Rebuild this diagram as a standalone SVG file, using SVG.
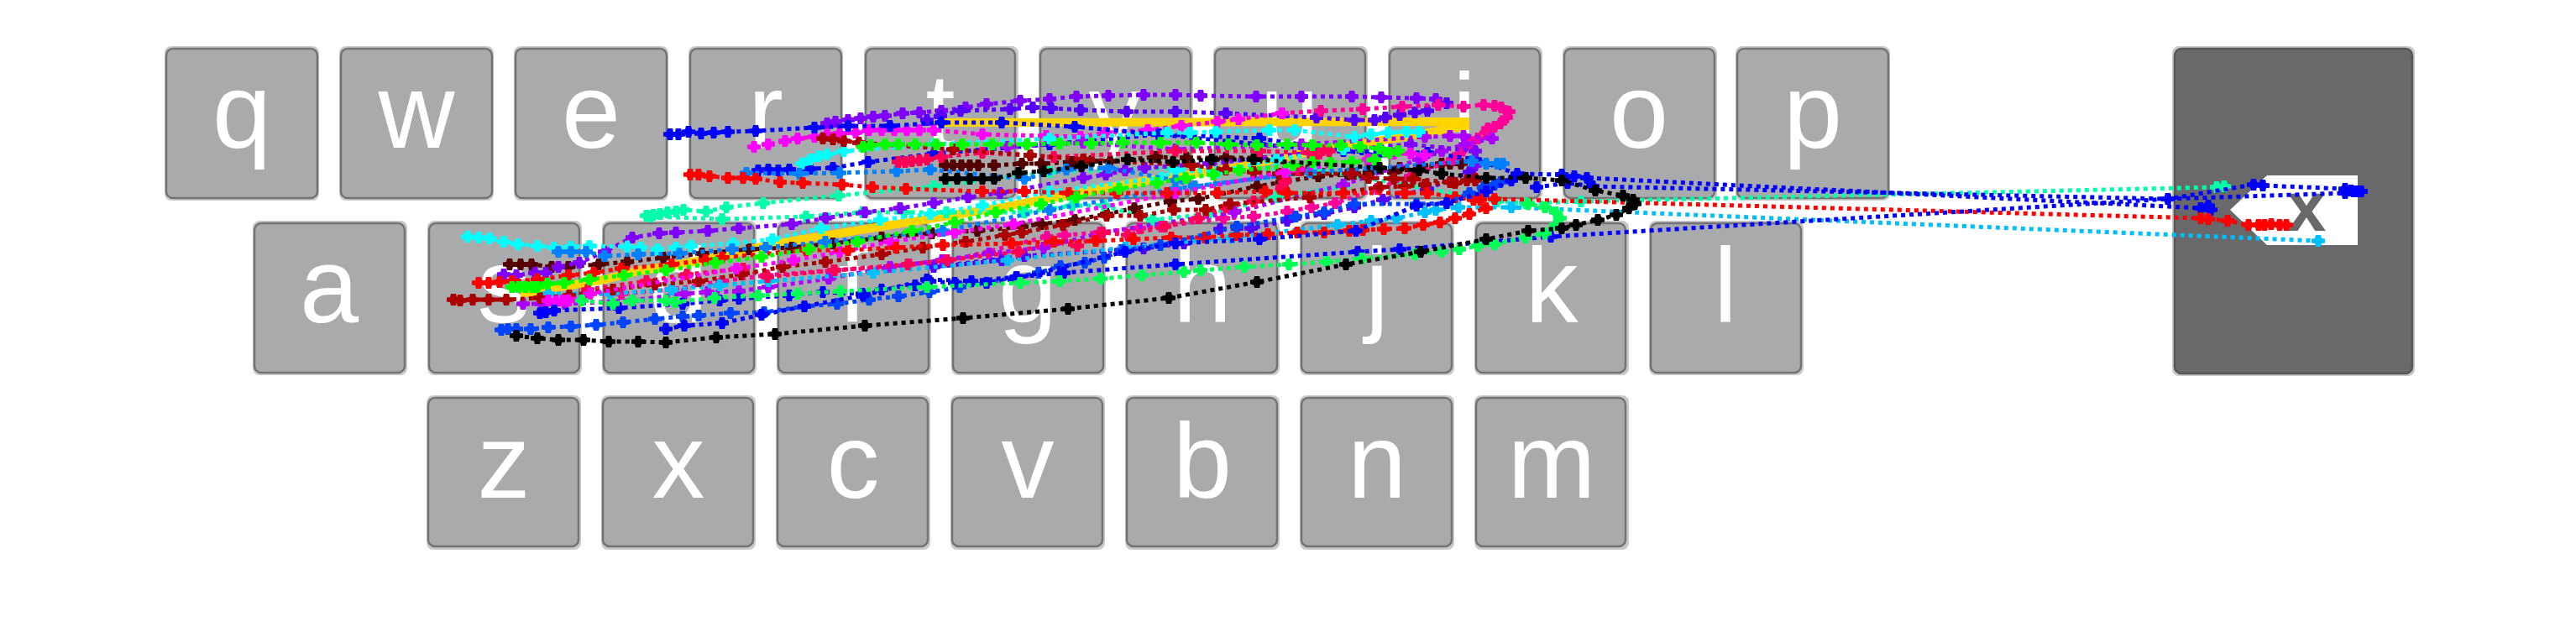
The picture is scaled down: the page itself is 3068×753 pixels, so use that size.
<svg xmlns="http://www.w3.org/2000/svg" width="3068" height="753" viewBox="0 0 3068 753">
<style>
.o{fill:#c9c9c9}
.k{fill:#a9aaac;stroke:#737375;stroke-width:2.5}
.b{fill:#69696b;stroke:#58585a;stroke-width:2.5}
text{font-family:"Liberation Sans",Arial,sans-serif;font-size:126px;fill:#fff;text-anchor:middle}
polyline{fill:none;stroke-width:5;stroke-dasharray:5 5}
.gold{stroke:#ffd400;stroke-width:10;stroke-dasharray:none}
.c1{stroke:#000;marker:url(#m1)}.c2{stroke:#00f;marker:url(#m2)}.c3{stroke:#04f;marker:url(#m3)}.c4{stroke:#0080ff;marker:url(#m4)}.c5{stroke:#00bfff;marker:url(#m5)}.c6{stroke:#0ff;marker:url(#m6)}.c7{stroke:#00ffaa;marker:url(#m7)}.c8{stroke:#00ff55;marker:url(#m8)}.c9{stroke:#0f0;marker:url(#m9)}.c10{stroke:#f00;marker:url(#m10)}.c11{stroke:#a00;marker:url(#m11)}.c12{stroke:#500;marker:url(#m12)}.c13{stroke:#ff0055;marker:url(#m13)}.c14{stroke:#ff0099;marker:url(#m14)}.c15{stroke:#f0f;marker:url(#m15)}.c16{stroke:#aa00ff;marker:url(#m16)}.c17{stroke:#7f00ff;marker:url(#m17)}.c18{stroke:#5500ff;marker:url(#m18)}
</style>
<defs>
<path id="g" d="M-8-2.5-4-3-3-7H3L4-3 8-2.5V2.5L4 3 3 7H-3L-4 3-8 2.5Z"/>
<marker id="m1" markerUnits="userSpaceOnUse" overflow="visible" fill="#000"><use href="#g"/></marker>
<marker id="m2" markerUnits="userSpaceOnUse" overflow="visible" fill="#00f"><use href="#g"/></marker>
<marker id="m3" markerUnits="userSpaceOnUse" overflow="visible" fill="#04f"><use href="#g"/></marker>
<marker id="m4" markerUnits="userSpaceOnUse" overflow="visible" fill="#0080ff"><use href="#g"/></marker>
<marker id="m5" markerUnits="userSpaceOnUse" overflow="visible" fill="#00bfff"><use href="#g"/></marker>
<marker id="m6" markerUnits="userSpaceOnUse" overflow="visible" fill="#0ff"><use href="#g"/></marker>
<marker id="m7" markerUnits="userSpaceOnUse" overflow="visible" fill="#00ffaa"><use href="#g"/></marker>
<marker id="m8" markerUnits="userSpaceOnUse" overflow="visible" fill="#00ff55"><use href="#g"/></marker>
<marker id="m9" markerUnits="userSpaceOnUse" overflow="visible" fill="#0f0"><use href="#g"/></marker>
<marker id="m10" markerUnits="userSpaceOnUse" overflow="visible" fill="#f00"><use href="#g"/></marker>
<marker id="m11" markerUnits="userSpaceOnUse" overflow="visible" fill="#a00"><use href="#g"/></marker>
<marker id="m12" markerUnits="userSpaceOnUse" overflow="visible" fill="#500"><use href="#g"/></marker>
<marker id="m13" markerUnits="userSpaceOnUse" overflow="visible" fill="#ff0055"><use href="#g"/></marker>
<marker id="m14" markerUnits="userSpaceOnUse" overflow="visible" fill="#ff0099"><use href="#g"/></marker>
<marker id="m15" markerUnits="userSpaceOnUse" overflow="visible" fill="#f0f"><use href="#g"/></marker>
<marker id="m16" markerUnits="userSpaceOnUse" overflow="visible" fill="#aa00ff"><use href="#g"/></marker>
<marker id="m17" markerUnits="userSpaceOnUse" overflow="visible" fill="#7f00ff"><use href="#g"/></marker>
<marker id="m18" markerUnits="userSpaceOnUse" overflow="visible" fill="#5500ff"><use href="#g"/></marker>
</defs>
<rect width="3068" height="753" fill="#fff"/>
<g id="key-q"><rect class="o" x="196" y="55" width="184" height="184" rx="8"/><rect class="k" x="198" y="58" width="180" height="178" rx="8"/><text x="288" y="176">q</text></g>
<g id="key-w"><rect class="o" x="404" y="55" width="184" height="184" rx="8"/><rect class="k" x="406" y="58" width="180" height="178" rx="8"/><text x="496" y="176">w</text></g>
<g id="key-e"><rect class="o" x="612" y="55" width="184" height="184" rx="8"/><rect class="k" x="614" y="58" width="180" height="178" rx="8"/><text x="704" y="176">e</text></g>
<g id="key-r"><rect class="o" x="820" y="55" width="184" height="184" rx="8"/><rect class="k" x="822" y="58" width="180" height="178" rx="8"/><text x="912" y="176">r</text></g>
<g id="key-t"><rect class="o" x="1029" y="55" width="184" height="184" rx="8"/><rect class="k" x="1031" y="58" width="178" height="178" rx="8"/><text x="1120" y="176">t</text></g>
<g id="key-y"><rect class="o" x="1237" y="55" width="184" height="184" rx="8"/><rect class="k" x="1239" y="58" width="179" height="178" rx="8"/><text x="1328" y="176">y</text></g>
<g id="key-u"><rect class="o" x="1445" y="55" width="184" height="184" rx="8"/><rect class="k" x="1447" y="58" width="179" height="178" rx="8"/><text x="1536" y="176">u</text></g>
<g id="key-i"><rect class="o" x="1653" y="55" width="184" height="184" rx="8"/><rect class="k" x="1655" y="58" width="179" height="178" rx="8"/><text x="1744" y="176">i</text></g>
<g id="key-o"><rect class="o" x="1861" y="55" width="184" height="184" rx="8"/><rect class="k" x="1863" y="58" width="179" height="178" rx="8"/><text x="1952" y="176">o</text></g>
<g id="key-p"><rect class="o" x="2067" y="55" width="184" height="184" rx="8"/><rect class="k" x="2069" y="58" width="180" height="178" rx="8"/><text x="2159" y="176">p</text></g>
<g id="key-a"><rect class="o" x="301" y="263" width="184" height="184" rx="8"/><rect class="k" x="303" y="266" width="179" height="178" rx="8"/><text x="392" y="384">a</text></g>
<g id="key-s"><rect class="o" x="509" y="263" width="184" height="184" rx="8"/><rect class="k" x="511" y="266" width="179" height="178" rx="8"/><text x="600" y="384">s</text></g>
<g id="key-d"><rect class="o" x="717" y="263" width="184" height="184" rx="8"/><rect class="k" x="719" y="266" width="179" height="178" rx="8"/><text x="808" y="384">d</text></g>
<g id="key-f"><rect class="o" x="925" y="263" width="184" height="184" rx="8"/><rect class="k" x="927" y="266" width="179" height="178" rx="8"/><text x="1016" y="384">f</text></g>
<g id="key-g"><rect class="o" x="1133" y="263" width="184" height="184" rx="8"/><rect class="k" x="1135" y="266" width="179" height="178" rx="8"/><text x="1224" y="384">g</text></g>
<g id="key-h"><rect class="o" x="1340" y="263" width="184" height="184" rx="8"/><rect class="k" x="1342" y="266" width="179" height="178" rx="8"/><text x="1432" y="384">h</text></g>
<g id="key-j"><rect class="o" x="1548" y="263" width="184" height="184" rx="8"/><rect class="k" x="1550" y="266" width="179" height="178" rx="8"/><text x="1640" y="384">j</text></g>
<g id="key-k"><rect class="o" x="1756" y="263" width="184" height="184" rx="8"/><rect class="k" x="1758" y="266" width="178" height="178" rx="8"/><text x="1848" y="384">k</text></g>
<g id="key-l"><rect class="o" x="1964" y="263" width="184" height="184" rx="8"/><rect class="k" x="1966" y="266" width="179" height="178" rx="8"/><text x="2055" y="384">l</text></g>
<g id="key-z"><rect class="o" x="508" y="471" width="184" height="184" rx="8"/><rect class="k" x="510" y="474" width="179" height="177" rx="8"/><text x="600" y="593">z</text></g>
<g id="key-x"><rect class="o" x="716" y="471" width="184" height="184" rx="8"/><rect class="k" x="718" y="474" width="179" height="177" rx="8"/><text x="808" y="593">x</text></g>
<g id="key-c"><rect class="o" x="924" y="471" width="184" height="184" rx="8"/><rect class="k" x="926" y="474" width="179" height="177" rx="8"/><text x="1016" y="593">c</text></g>
<g id="key-v"><rect class="o" x="1132" y="471" width="184" height="184" rx="8"/><rect class="k" x="1134" y="474" width="179" height="177" rx="8"/><text x="1224" y="593">v</text></g>
<g id="key-b"><rect class="o" x="1340" y="471" width="184" height="184" rx="8"/><rect class="k" x="1342" y="474" width="179" height="177" rx="8"/><text x="1432" y="593">b</text></g>
<g id="key-n"><rect class="o" x="1548" y="471" width="184" height="184" rx="8"/><rect class="k" x="1550" y="474" width="179" height="177" rx="8"/><text x="1640" y="593">n</text></g>
<g id="key-m"><rect class="o" x="1756" y="471" width="184" height="184" rx="8"/><rect class="k" x="1758" y="474" width="178" height="177" rx="8"/><text x="1848" y="593">m</text></g>
<g id="key-backspace"><rect class="o" x="2587" y="55" width="289" height="393" rx="8"/><rect class="b" x="2590" y="58" width="283" height="387" rx="8"/><polygon points="2656,250 2700,209 2808,209 2808,292 2700,292" fill="#fff"/><text x="2747" y="275" style="font-size:84px;font-weight:bold;fill:#69696b">x</text></g>
<g id="connectors">
<polyline class="gold" points="620,350 720,333 760,323 837,310 925,290 1112,260 1193,247 1300,227 1367,215 1470,200 1555,182 1690,160 1745,150 1745,145 1121,146"/>
<polyline class="c12" points="1126,197 1135,197 1145,197 1155,197 1165,197 1184,197 1217,195 1240,195 1277,193 1300,192 1322,192 1377,187 1413,188 1460,188 1500,188 1605,208 1633,203 1667,200 1693,197 1717,195 1740,195 1727,195 1660,205 1613,207 1570,210 1527,217 1497,222 1427,237 1394,240 1351,248 1318,255 1280,262 1240,267 1217,270 1164,275 1110,278 1050,283 992,290 943,295 892,297 836,302 790,307 747,312 713,315 677,318 657,318 633,315 620,315 607,315"/>
<polyline class="c7" points="770,257 778,256 786,255 795,253 805,252 814,250 841,252 865,247 909,242 999,233 1112,222 1250,205 1400,200 1567,202 1700,225 1783,240 1817,242 1883,240 2640,223 2649,222"/>
<polyline class="c7" points="775,258 860,261 960,258 1027,253 1077,253 1127,253 1220,253 1277,245 1315,245 1373,262 1440,255 1520,235 1600,222"/>
<polyline class="c17" points="985,147 995,145 1010,143 1025,141 1040,139 1054,138 1075,135 1095,134 1121,132 1150,128 1175,124 1215,120 1250,118 1282,115 1320,114 1362,113 1400,113 1430,114 1496,115 1550,115 1610,115 1645,116 1687,117 1710,118 1723,123"/>
<polyline class="c18" points="1723,123 1700,132 1685,134 1667,137 1650,140 1637,143 1613,143 1568,140 1460,135 1400,133 1342,133 1287,131 1252,129 1230,128 1203,130 1144,132 1120,138 1104,143"/>
<polyline class="c14" points="1527,135 1573,132 1623,130 1670,127 1713,125 1743,127 1767,125 1780,126 1788,128 1797,133 1794,140 1787,147 1780,151 1772,153"/>
<polyline class="c14" points="1770,158 1760,165 1750,172 1743,177 1737,184 1730,190 1680,210 1640,225 1590,242 1562,247 1533,252 1493,258 1457,260 1383,270 1357,272 1310,277 1268,280 1247,282 1127,312 1083,315 1060,318 993,322 913,328 860,335 800,345 740,350 700,350"/>
<polyline class="c14" points="898,175 915,172 935,168 950,165 970,163 985,160 1000,159 1019,158 1035,155 1050,155 1065,155 1080,155 1095,155 1112,155 1170,160 1246,162 1287,163 1317,158 1367,155 1407,150 1450,145 1475,142 1527,135" style="stroke:#ff00dd;marker:url(#m15)"/>
<polyline class="c2" points="798,160 808,160 820,157 835,159 850,158 867,157 900,156 970,152 1010,150 1060,150 1121,146 1193,146 1280,151 1380,160 1500,172 1600,180 1700,182 1757,190 1807,207 1860,208 1875,210 1890,212 2621,248 2630,245 2633,250"/>
<polyline class="c2" points="903,203 915,202 927,203 940,202 965,201 992,200 1034,193 1112,183 1250,172 1380,160 1500,165 1640,185"/>
<polyline class="c2" points="1830,223 1867,218 1897,222 2582,237 2684,220 2695,221 2793,225 2800,227 2806,228 2812,228"/>
<polyline class="c16" points="623,362 645,362 673,362 753,358 815,350 843,348 880,347 915,342 987,332 1060,318 1122,310 1178,302 1243,295 1313,277 1470,253 1600,220 1690,190 1717,180 1745,172 1777,165 1743,162 1727,162 1697,163 1550,172 1400,178 1290,170 1200,175"/>
<polyline class="c17" points="600,327 615,328 637,325 650,325 665,318 690,313 720,300 753,283 785,278 805,277 843,275 880,272 943,267 983,260 1030,253 1072,248 1112,242 1153,235 1191,230 1290,212 1317,208 1340,203 1363,200 1440,195 1560,182 1680,172 1757,180 1757,197"/>
<polyline class="c18" points="1193,310 1112,318 1220,305 1335,298 1362,296 1410,290 1453,273 1490,272 1533,263 1577,255 1613,247 1647,238 1700,225 1750,205"/>
<polyline class="c6" points="557,282 570,283 583,284 600,288 617,291 640,293 660,295 680,294 702,293 747,294 763,295 783,297 805,295 823,293 873,290 920,285 978,272 1048,262 1108,255 1170,245 1250,228 1383,212 1400,203 1450,205 1520,190 1600,178"/>
<polyline class="c6" points="955,195 965,190 975,186 985,184 1005,180 1112,172 1250,165 1390,158 1417,158 1448,157 1512,155 1542,155 1613,163 1633,160 1653,158 1675,157 1690,157"/>
<polyline class="c4" points="665,300 680,300 698,300 720,305 760,303 809,302 872,297 912,295 983,288 1123,275 1250,250 1400,225 1560,205"/>
<polyline class="c4" points="889,206 952,207 1000,206 1068,204 1108,202 1220,213 1270,202 1320,200 1400,215 1423,222 1560,205 1640,200 1753,192 1770,195 1783,195 1790,195"/>
<polyline class="c5" points="653,350 727,350 800,345 857,340 915,335 1040,325 1200,310 1340,295 1467,283 1593,268 1633,263 1663,260 1697,253 1710,250 1737,247 1800,247 2761,287"/>
<polyline class="c13" points="1070,193 1078,193 1086,192 1095,191 1104,190 1121,187 1170,182 1255,187 1400,180 1500,180 1560,182 1575,179 1583,180 1567,187 1547,203 1530,217 1527,223 1493,240 1460,247 1427,260 1387,270 1343,280 1313,277 1283,293 1255,288 1213,300 1128,310 1081,315 994,322 914,330 885,320 818,327 770,335 700,345"/>
<polyline class="c11" points="980,165 992,166 1005,168 1023,170 1135,178 1227,185 1290,190 1420,197 1460,202 1493,205 1523,207 1610,207 1630,212 1660,213 1683,213 1733,218 1757,215"/>
<polyline class="c11" points="540,357 548,358 563,357 582,357 603,357 643,355 678,352 730,345 780,339 832,335 883,327 932,318 983,312 1050,303 1099,295 1150,288 1197,280 1217,277 1266,268 1318,257 1358,257 1398,250 1436,250 1465,243 1560,235 1643,223 1673,222 1697,220 1727,217 1747,215 1757,213"/>
<polyline class="c15" points="653,358 662,359 670,358 677,358 703,350 877,320 945,310 1000,300 1060,288 1137,277 1207,267 1400,230 1530,205 1630,190 1660,183 1680,183 1697,185"/>
<polyline class="c10" points="822,208 832,208 845,210 867,212 885,212 900,213 929,217 956,218 1003,220 1039,223 1079,225 1170,228 1220,228 1273,230 1330,230 1390,230 1450,230 1507,228 1533,230 1600,230 1673,230 1700,230 1733,235 1755,238 1763,238 1770,248 1750,255 1733,260 1715,265 1695,268 1673,272 1648,273 1623,274 1607,275 1577,277 1545,277 1510,279 1473,280 1435,283 1395,283 1350,285 1305,287 1255,288 1205,290 1123,292 1067,295 1010,298 960,298 860,307 840,310 800,315 740,320 707,325 677,328 640,333 610,335 595,336 582,337 570,337"/>
<polyline class="c10" points="1780,237 2621,260 2630,261 2653,263 2678,268 2690,268 2697,268 2705,267 2715,268 2723,268"/>
<polyline class="c3" points="597,393 605,392 615,392 632,392 653,390 680,389 710,387 742,384 780,380 813,377 832,376 870,373 910,372 958,365 997,362 1035,357 1070,353 1107,348 1143,342 1175,337 1210,330 1237,325 1263,317 1292,313 1315,307 1337,298 1382,292 1473,270 1543,258 1577,253 1613,243 1687,243 1723,242 1750,230 1767,223 1780,220 1787,217"/>
<polyline class="c2" points="793,392 815,388 860,385 907,375 958,365 1028,352 1104,333 1157,335 1211,330 1267,325 1400,315 1617,300 1667,297 1847,282 2582,237 2793,230 2803,228 2812,228"/>
<polyline class="c2" points="643,373 650,372 660,370 737,367 813,362 857,358 880,356 940,352 980,348 1027,350 1050,345 1090,340 1107,335 1137,337 1175,337 1210,332 1340,300 1400,290 1500,285 1615,275 1687,245 1723,242 1770,228 1800,215"/>
<polyline class="c9" points="610,342 618,342 626,342 634,342 640,342 652,338 672,337 702,333 743,328 793,322 852,313 907,306 963,297 1021,288 1086,275 1137,265 1186,253 1240,243 1282,235 1333,225 1378,218 1412,212 1445,208 1476,203 1540,197 1563,193 1585,194 1610,193 1637,190 1655,182 1665,180 1643,177 1620,175 1597,173 1563,173 1533,172 1497,173 1463,172 1425,170 1382,170 1337,170 1300,171 1262,171 1223,172 1182,172 1146,172 1115,172 1090,172 1070,172 1054,172 1037,173 1028,175"/>
<polyline class="c8" points="693,358 730,362 753,358 793,358 804,360 851,355 903,352 950,350 1001,347 1104,342 1215,337 1262,335 1311,332 1360,328 1410,324 1430,322 1482,318 1535,315 1580,312 1622,308 1685,303 1717,300 1738,297 1760,293 1780,291 1817,283 1840,278 1853,268 1858,260 1853,253 1840,247 1820,243"/>
<polyline class="c1" points="615,400 640,403 665,405 695,405 725,407 760,407 793,408 853,402 923,398 1030,388 1147,379 1272,368 1392,355 1497,336 1603,315 1692,300 1770,285 1820,275 1860,272 1877,268 1903,262 1925,256 1940,248 1947,243 1945,238 1933,233 1900,227 1860,215 1817,212 1770,212 1717,207 1690,203 1643,200 1493,190 1443,190 1397,193 1343,190 1288,198 1243,204 1213,206 1184,213 1170,213 1155,213 1140,213 1126,213"/>
</g>
</svg>
